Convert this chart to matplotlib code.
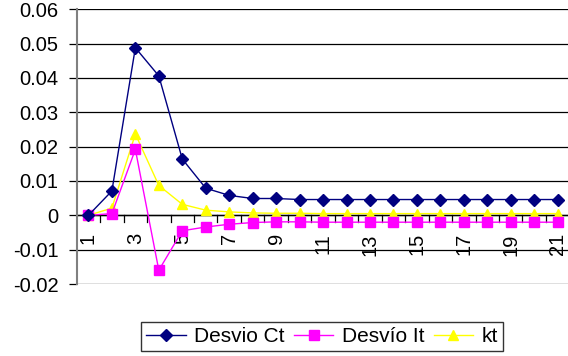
import matplotlib
import numpy as np

matplotlib.use("Agg")
import matplotlib.pyplot as plt

periods = list(range(1, 22))
desvio_ct = [0.0, 0.0071, 0.0488, 0.0406, 0.0164, 0.0079, 0.0058, 0.0049, 0.0049, 0.0046,
             0.0046, 0.0046, 0.0046, 0.0046, 0.0046, 0.0046, 0.0046, 0.0046, 0.0046, 0.0046, 0.0046]
desvio_it = [0.0, 0.0005, 0.0192, -0.0160, -0.0045, -0.0034, -0.0026, -0.0021, -0.0019, -0.0019,
             -0.0020, -0.0020, -0.0020, -0.0020, -0.0020, -0.0020, -0.0020, -0.0020, -0.0020, -0.0020, -0.0020]
kt = [0.0, 0.0021, 0.0237, 0.0087, 0.0032, 0.0015, 0.0010, 0.0007, 0.0006, 0.0006,
      0.0005, 0.0005, 0.0005, 0.0005, 0.0005, 0.0005, 0.0005, 0.0005, 0.0005, 0.0005, 0.0005]
y_ticks = [-0.02, -0.01, 0, 0.01, 0.02, 0.03, 0.04, 0.05, 0.06]
y_labels = ["-0.02", "-0.01", "0", "0.01", "0.02", "0.03", "0.04", "0.05", "0.06"]

plt.rcParams["font.family"] = ["Liberation Sans", "DejaVu Sans"]

fig = plt.figure(figsize=(5.68, 3.56), dpi=100)
ax = fig.add_axes([76.7 / 568, 1 - 284 / 356, 492.7 / 568, 274.7 / 356])

ax.set_xlim(0.5, 21.5)
ax.set_ylim(-0.02, 0.06)
ax.set_yticks(y_ticks)
ax.set_yticklabels(y_labels, fontsize=14.5)
ax.grid(axis="y", color="black", linewidth=0.9)
ax.set_axisbelow(True)

for side in ["top", "right", "bottom"]:
    ax.spines[side].set_visible(False)
ax.spines["left"].set_color("#808080")
ax.spines["left"].set_linewidth(1.5)
ax.tick_params(axis="y", length=6, width=0.9, color="black", pad=7)
ax.set_xticks([])

# category axis drawn at y = 0, ticks between categories
ax.axhline(0, color="black", linewidth=1.0, zorder=2)
for b in np.arange(1.5, 21.5, 1.0):
    ax.plot([b, b], [0, -0.002], color="black", linewidth=0.9, zorder=2, clip_on=False)
for p in periods[::2]:
    ax.text(p, -0.0052, str(p), rotation=90, ha="center", va="top", fontsize=14.5)

ax.plot(periods, desvio_ct, color="#000080", marker="D", markersize=6, linewidth=1,
        label="Desvio Ct", zorder=5, clip_on=False)
ax.plot(periods, desvio_it, color="#FF00FF", marker="s", markersize=6.5, linewidth=1,
        label="Desvío It", zorder=4, clip_on=False)
ax.plot(periods, kt, color="#FFFF00", marker="^", markersize=7.5, linewidth=1,
        label="kt", zorder=3, clip_on=False)

leg = fig.legend(loc="center", bbox_to_anchor=(322 / 568, 1 - 336.5 / 356), ncol=3,
                 fontsize=15, frameon=True, fancybox=False, handlelength=1.9,
                 handletextpad=0.4, columnspacing=0.45, borderpad=0.25,
                 borderaxespad=0)
leg.get_frame().set_edgecolor("black")
leg.get_frame().set_linewidth(1.0)

fig.savefig("out.png", dpi=100)
